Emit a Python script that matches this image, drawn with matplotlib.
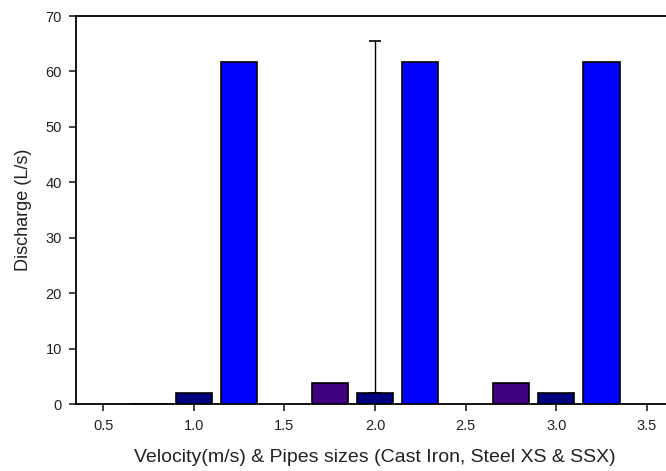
import matplotlib
matplotlib.use("Agg")
import matplotlib.pyplot as plt
import numpy as np

plt.rcParams['font.family'] = ['Liberation Sans', 'DejaVu Sans']

# Velocity groups (m/s)
velocity = [1.0, 2.0, 3.0]
# Discharge (L/s) for each pipe material
cast_iron = [0.0, 3.8, 3.8]
steel_xs = [2.0, 2.0, 2.0]
steel_ssx = [61.7, 61.7, 61.7]
# Upper error on the Steel XS bar at 2.0 m/s
steel_xs_err_upper = [0.0, 63.4, 0.0]

x_ticks = [0.5, 1.0, 1.5, 2.0, 2.5, 3.0, 3.5]
y_ticks = [0, 10, 20, 30, 40, 50, 60, 70]

fig = plt.figure(figsize=(6.66, 4.71), dpi=100)
ax = fig.add_axes([76 / 666, 67 / 471, 598 / 666, 388 / 471])

v = np.array(velocity)
offset = 0.25
width = 0.2

ax.bar(v - offset, cast_iron, width, color='#3f007f', edgecolor='black', linewidth=1.2, zorder=3)
ax.bar(v, steel_xs, width, color='#00007f', edgecolor='black', linewidth=1.2, zorder=3)
ax.bar(v + offset, steel_ssx, width, color='#0000ff', edgecolor='black', linewidth=1.2, zorder=3)

err_idx = [i for i, e in enumerate(steel_xs_err_upper) if e > 0]
ax.errorbar(v[err_idx], np.array(steel_xs)[err_idx],
            yerr=[np.zeros(len(err_idx)), np.array(steel_xs_err_upper)[err_idx]],
            fmt='none', ecolor='black', elinewidth=1.0, capsize=4.5, capthick=1.2, zorder=2)

ax.set_xlim(0.35, 3.65)
ax.set_ylim(0, 70)
ax.set_xticks(x_ticks)
ax.set_xticklabels([f"{t:.1f}" for t in x_ticks])
ax.set_yticks(y_ticks)
ax.tick_params(axis='both', direction='out', length=5, width=1.2, labelsize=10.5, colors='#222222')
ax.tick_params(axis='x', pad=6)
ax.tick_params(axis='y', pad=5)

for side in ['left', 'bottom', 'top']:
    ax.spines[side].set_linewidth(1.3)
ax.spines['right'].set_visible(False)

ax.set_xlabel("Velocity(m/s) & Pipes sizes (Cast Iron, Steel XS & SSX)", fontsize=14,
              labelpad=11, color='#222222')
ax.set_ylabel("Discharge (L/s)", fontsize=13, labelpad=10, color='#222222')

fig.savefig("out.png", dpi=100)
